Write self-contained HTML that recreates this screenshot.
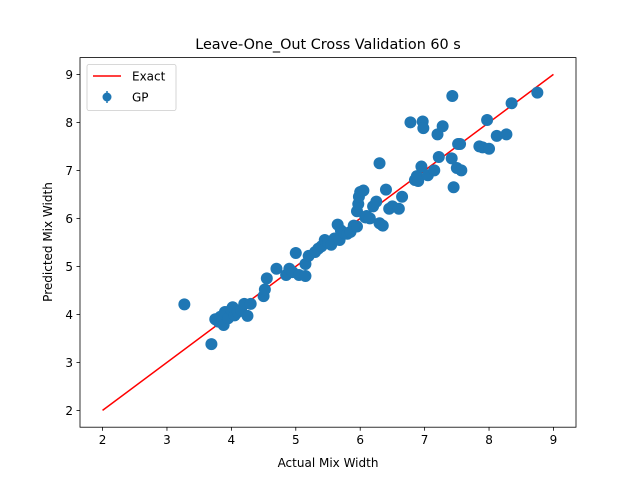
<!DOCTYPE html>
<html><head><meta charset="utf-8"><style>body{margin:0;background:#fff}svg{display:block;font-family:"DejaVu Sans","Liberation Sans",sans-serif}</style></head>
<body>
<svg id="chart" width="640" height="480">
<rect width="640" height="480" fill="#fff"/>
<text x="328" y="49" font-size="14.4" text-anchor="middle">Leave-One_Out Cross Validation 60 s</text>
<g id="plot"></g>
<rect x="80" y="57.6" width="496" height="369.6" fill="none" stroke="#000" stroke-width="0.8"/>
<text x="328" y="467" font-size="12" text-anchor="middle">Actual Mix Width</text>
<text transform="translate(52,242) rotate(-90)" font-size="12" text-anchor="middle">Predicted Mix Width</text>
<g>
<rect x="87" y="64.5" width="89" height="46" rx="2" fill="#fff" fill-opacity="0.8" stroke="#ccc" stroke-width="0.8"/>
<line x1="93" y1="76" x2="121" y2="76" stroke="red" stroke-width="1.5"/>
<text x="132" y="80.5" font-size="12">Exact</text>
<line x1="107" y1="91" x2="107" y2="103" stroke="#1f77b4" stroke-width="1.5"/>
<circle cx="107" cy="97" r="4.5" fill="#1f77b4"/>
<text x="132" y="101.5" font-size="12">GP</text>
</g>
</svg>
<script>
const xTicks=[2,3,4,5,6,7,8,9];
const yTicks=[2,3,4,5,6,7,8,9];
const exactLine=[2,9];
const actual=[3.27,3.69,3.75,3.8,3.83,3.86,3.88,3.9,3.95,4.0,4.02,4.05,4.1,4.15,4.2,4.25,4.3,4.5,4.52,4.55,4.7,4.85,4.9,4.95,5.0,5.05,5.15,5.15,5.2,5.3,5.35,5.4,5.45,5.5,5.55,5.6,5.65,5.68,5.7,5.75,5.8,5.85,5.9,5.95,5.95,5.97,5.98,6.0,6.05,6.08,6.1,6.15,6.2,6.25,6.3,6.3,6.35,6.4,6.45,6.5,6.6,6.65,6.78,6.85,6.88,6.9,6.95,6.97,6.98,7.05,7.15,7.2,7.22,7.28,7.42,7.43,7.45,7.5,7.52,7.55,7.57,7.85,7.9,7.97,8.0,8.12,8.27,8.35,8.75];
const predicted=[4.21,3.38,3.9,3.85,3.95,3.88,3.78,4.05,3.92,4.1,4.15,3.98,4.05,4.1,4.22,3.97,4.22,4.38,4.52,4.75,4.95,4.82,4.95,4.88,5.28,4.82,4.8,5.05,5.22,5.3,5.37,5.42,5.55,5.5,5.45,5.58,5.87,5.55,5.75,5.7,5.68,5.72,5.85,5.83,6.15,6.3,6.45,6.55,6.58,6.02,6.05,6.0,6.25,6.35,5.9,7.15,5.85,6.6,6.2,6.25,6.2,6.45,8.0,6.8,6.88,6.78,7.08,8.02,7.88,6.9,7.0,7.75,7.28,7.92,7.25,8.55,6.65,7.05,7.55,7.55,7.0,7.5,7.48,8.05,7.45,7.72,7.75,8.4,8.62];
const L=80,T=57.6,W=496,H=369.6,mn=1.65,mx=9.35;
const sx=v=>L+(v-mn)/(mx-mn)*W, sy=v=>T+H-(v-mn)/(mx-mn)*H;
const NS='http://www.w3.org/2000/svg', g=document.getElementById('plot');
function mk(t,a,p){const e=document.createElementNS(NS,t);for(const k in a)e.setAttribute(k,a[k]);(p||g).appendChild(e);return e;}
xTicks.forEach(v=>{const x=sx(v);
 const l=mk('line',{x1:x,x2:x,y1:T+H,y2:T+H+3.5,stroke:'#000','stroke-width':0.8});
 
 
 const t=mk('text',{x:x,y:T+H+17,'font-size':12,'text-anchor':'middle'});t.textContent=v;
 
 });
yTicks.forEach(v=>{const y=sy(v);
 const l=mk('line',{x1:L-3.5,x2:L,y1:y,y2:y,stroke:'#000','stroke-width':0.8});
 
 
 const t=mk('text',{x:L-7,y:y+4.5,'font-size':12,'text-anchor':'end'});t.textContent=v;
 
 });
const ln=mk('line',{x1:sx(exactLine[0]),y1:sy(exactLine[0]),x2:sx(exactLine[1]),y2:sy(exactLine[1]),stroke:'red','stroke-width':1.5});


actual.forEach((a,i)=>{const c=mk('circle',{cx:sx(a),cy:sy(predicted[i]),r:6,fill:'#1f77b4'});
 
 });
</script>
</body></html>
